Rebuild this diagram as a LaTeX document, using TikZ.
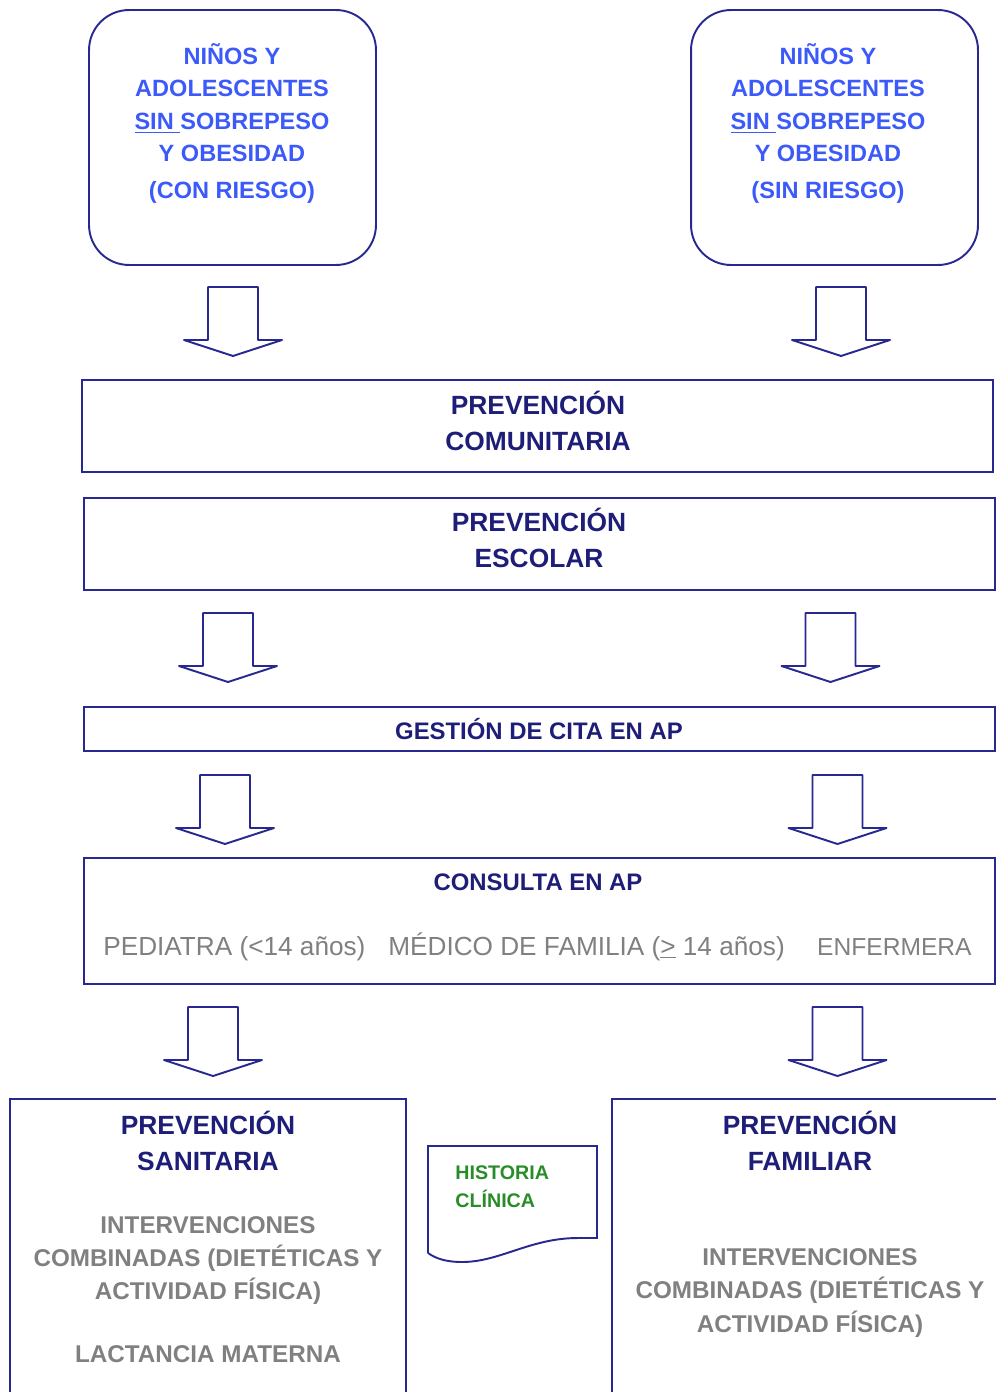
\documentclass[tikz,border=0pt]{standalone}
\usepackage{fontspec}
\setmainfont{Liberation Sans}
\usetikzlibrary{positioning,calc}
\definecolor{navy}{RGB}{30,30,120}
\definecolor{boxline}{RGB}{40,40,145}
\definecolor{brightblue}{RGB}{60,90,250}
\definecolor{midgray}{RGB}{128,128,128}
\definecolor{hcgreen}{RGB}{40,140,40}
\tikzset{
  frameline/.style={draw=boxline, line width=1.1pt},
  title/.style={align=center, text=navy, inner sep=0pt,
    font=\bfseries\fontsize{15}{20.5}\selectfont},
  widebox/.style={frameline, minimum width=18.22cm},
  riskbox/.style={frameline, rounded corners=0.8cm, minimum width=5.74cm, minimum height=5.1cm},
  risktext/.style={align=center, text=brightblue, inner sep=0pt,
    font=\bfseries\fontsize{13.4}{18.5}\selectfont},
  graytext/.style={align=center, text=midgray, inner sep=0pt,
    font=\bfseries\fontsize{13.8}{18.9}\selectfont},
  consitem/.style={anchor=base west, text=midgray, inner sep=0pt,
    font=\fontsize{14.9}{17}\selectfont},
  hctext/.style={align=left, text=hcgreen, inner sep=0pt,
    font=\bfseries\fontsize{11.2}{16}\selectfont},
  downarrow/.pic={
    \draw[frameline, line join=round] (-25,0) -- (25,0) -- (25,53) -- (49,53)
      -- (0,69) -- (-49,53) -- (-25,53) -- cycle;
  }
}
\begin{document}
\begin{tikzpicture}[x=0.02cm, y=-0.02cm]
  \useasboundingbox (0,0) rectangle (996,1392);

  \node[riskbox] (k1) at (232.5,137.5) {};
  \node[riskbox] (k2) at (834.5,137.5) {};
  \node[risktext, anchor=north] (k1t) at (232,43)
    {NIÑOS Y\\ADOLESCENTES\\\underline{SIN\ }SOBREPESO\\Y OBESIDAD\\[0.09cm](CON RIESGO)};
  \node[risktext, anchor=north] (k2t) at (828,43)
    {NIÑOS Y\\ADOLESCENTES\\\underline{SIN\ }SOBREPESO\\Y OBESIDAD\\[0.09cm](SIN RIESGO)};

  \pic (a1) at (233,287) {downarrow};
  \pic (a2) at (841,287) {downarrow};

  \node[widebox, minimum height=1.84cm] (com) at (537.5,426) {};
  \node[title] (comt) at (538,421) {PREVENCIÓN\\COMUNITARIA};
  \node[widebox, minimum height=1.84cm] (esc) at (539.5,544) {};
  \node[title] (esct) at (539,538) {PREVENCIÓN\\ESCOLAR};

  \pic (a3) at (228,613) {downarrow};
  \pic (a4) at (830.5,613) {downarrow};

  \node[widebox, minimum height=0.88cm] (cita) at (539.5,729) {};
  \node[title, font=\bfseries\fontsize{13.6}{17}\selectfont] (citat) at (539,729)
    {GESTIÓN DE CITA EN AP};

  \pic (a5) at (225,775) {downarrow};
  \pic (a6) at (837.5,775) {downarrow};

  \node[widebox, minimum height=2.52cm] (cons) at (539.5,921) {};
  \node[title, font=\bfseries\fontsize{13.6}{17}\selectfont] (const) at (538,882) {CONSULTA EN AP};
  \node[consitem] (ped) at (103,955) {PEDIATRA (<14 años)};
  \node[consitem] (med) at (388,955) {MÉDICO DE FAMILIA (\underline{>} 14 años)};
  \node[consitem, anchor=base east, font=\fontsize{14}{17}\selectfont] (enf) at (972,955) {ENFERMERA};

  \pic (a7) at (213,1007) {downarrow};
  \pic (a8) at (837.5,1007) {downarrow};

  \draw[frameline] (10,1392) |- (406,1099) -- (406,1392);
  \draw[frameline] (612,1392) |- (996,1099);

  \node[title] (san) at (208,1141) {PREVENCIÓN\\SANITARIA};
  \node[graytext] (sanint) at (208,1260.5)
    {INTERVENCIONES\\COMBINADAS (DIETÉTICAS Y\\ACTIVIDAD FÍSICA)};
  \node[graytext] (sanlac) at (208,1354) {LACTANCIA MATERNA};

  \node[title] (fam) at (810,1141) {PREVENCIÓN\\FAMILIAR};
  \node[graytext] (famint) at (810,1293)
    {INTERVENCIONES\\COMBINADAS (DIETÉTICAS Y\\ACTIVIDAD FÍSICA)};

  \draw[frameline] (428,1253) -- (428,1146) -- (597,1146) -- (597,1238) -- (578,1238)
    .. controls (530,1238) and (500,1262) .. (462,1262)
    .. controls (445,1262) and (435,1258) .. (428,1253);
  \node[hctext, anchor=north west] (hc) at (455,1165) {HISTORIA\\CLÍNICA};
\end{tikzpicture}
\end{document}
